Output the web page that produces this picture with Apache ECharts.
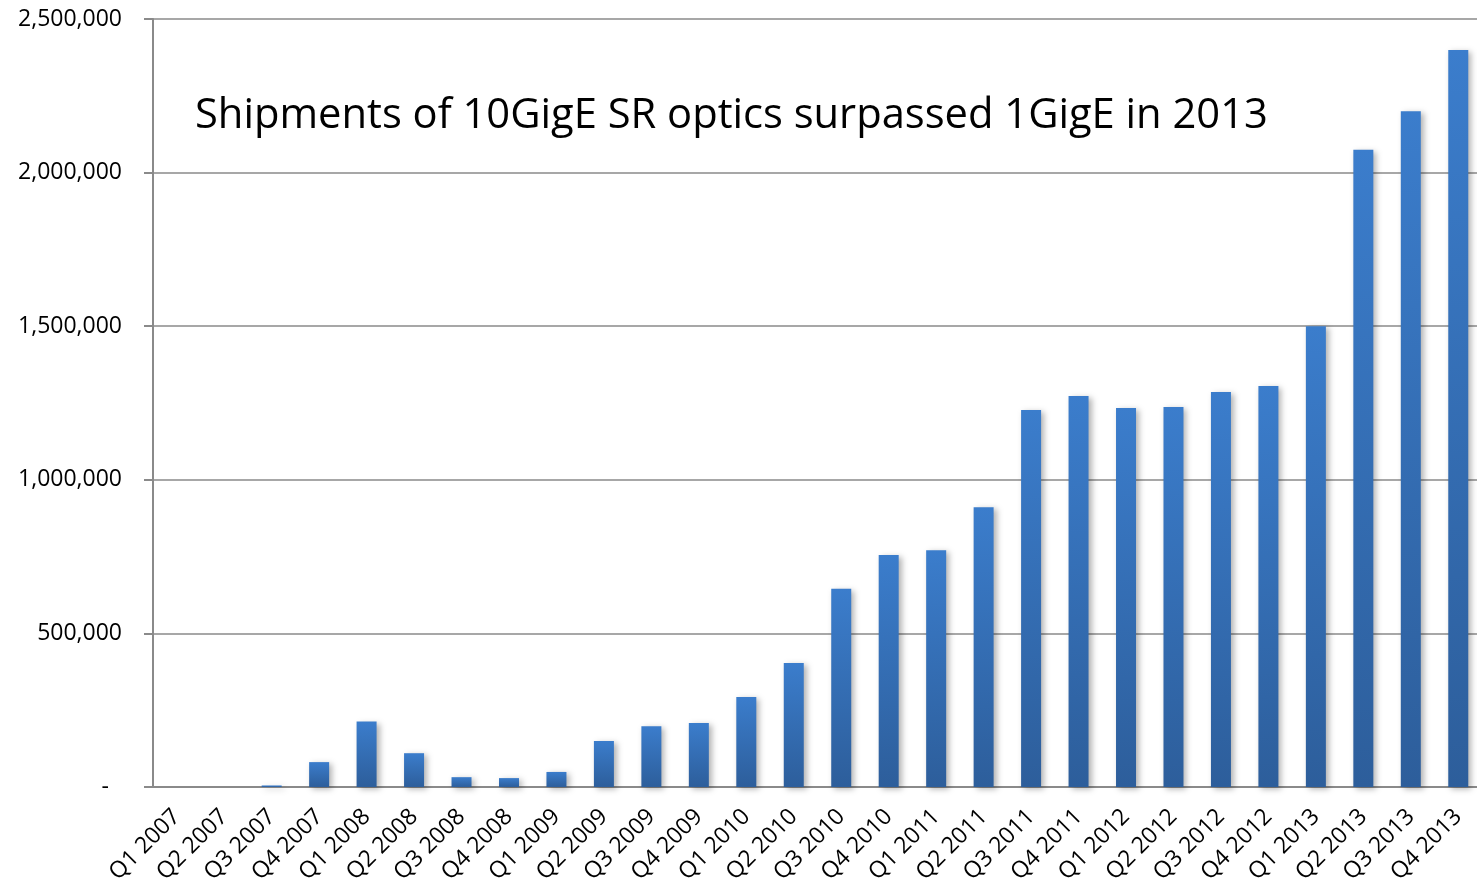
<!DOCTYPE html>
<html>
<head>
<meta charset="utf-8">
<title>10GigE SR optics shipments</title>
<script src="https://cdn.jsdelivr.net/npm/echarts@6/dist/echarts.min.js"></script>
<style>
    html, body { margin: 0; padding: 0; background: #fff; }
    #chart { width: 1477px; height: 884px; }
</style>
</head>
<body>
<div id="chart"></div>
<script>
// quarters on the x axis
const quarters = [
    "Q1 2007", "Q2 2007", "Q3 2007", "Q4 2007",
    "Q1 2008", "Q2 2008", "Q3 2008", "Q4 2008",
    "Q1 2009", "Q2 2009", "Q3 2009", "Q4 2009",
    "Q1 2010", "Q2 2010", "Q3 2010", "Q4 2010",
    "Q1 2011", "Q2 2011", "Q3 2011", "Q4 2011",
    "Q1 2012", "Q2 2012", "Q3 2012", "Q4 2012",
    "Q1 2013", "Q2 2013", "Q3 2013", "Q4 2013",
];
// units shipped
const shipments = [
    0, 0, 5000, 81000,
    213000, 110000, 32000, 29000,
    49000, 150000, 198000, 208000,
    293000, 404000, 645000, 755000,
    771000, 911000, 1227000, 1273000,
    1234000, 1237000, 1286000, 1305000,
    1500000, 2074000, 2200000, 2399000,
];
const yMax = 2500000;
const yStep = 500000;
const titleText = "Shipments of 10GigE SR optics surpassed 1GigE in 2013";

const font = "'Open Sans', sans-serif";
const axisGray = "#8a8a8a";

const chart = echarts.init(document.getElementById("chart"));
chart.setOption({
    animation: false,
    title: {
        text: titleText,
        left: 190,
        top: 90,
        textStyle: {
            fontFamily: font,
            fontSize: 41.7,
            fontWeight: "normal",
            color: "#000",
        },
    },
    // plot runs a few px past the right edge, like the original
    grid: {
        left: 153,
        right: -5,
        top: 19,
        bottom: 97,
        containLabel: false,
        outerBoundsMode: "none",
    },
    xAxis: {
        type: "category",
        data: quarters,
        axisLine: { lineStyle: { color: axisGray, width: 2 } },
        axisTick: { length: 8, lineStyle: { color: axisGray, width: 2 } },
        axisLabel: {
            interval: 0,
            rotate: 45,
            margin: 26,
            fontFamily: font,
            fontSize: 23,
            color: "#000",
        },
    },
    yAxis: {
        type: "value",
        min: 0,
        max: yMax,
        interval: yStep,
        axisLine: { show: true, lineStyle: { color: axisGray, width: 2 } },
        axisTick: { show: true, length: 9, lineStyle: { color: axisGray, width: 2 } },
        splitLine: { lineStyle: { color: axisGray, width: 1.5 } },
        axisLabel: {
            margin: 31,
            fontFamily: font,
            fontSize: 23,
            color: "#000",
            formatter: (v) => (v === 0 ? "{d|-}" : v.toLocaleString("en-US")),
            rich: {
                d: { fontFamily: font, fontSize: 23, color: "#000", padding: [0, 13, 0, 0] },
            },
        },
    },
    series: [
        {
            type: "bar",
            data: shipments,
            barWidth: 20,
            itemStyle: {
                color: new echarts.graphic.LinearGradient(0, 0, 0, 1, [
                    { offset: 0, color: "#3b7dcc" },
                    { offset: 1, color: "#2d5e9b" },
                ]),
                shadowColor: "rgba(0,0,0,0.3)",
                shadowBlur: 6,
                shadowOffsetX: 3,
                shadowOffsetY: 2,
            },
        },
    ],
});
</script>
</body>
</html>
